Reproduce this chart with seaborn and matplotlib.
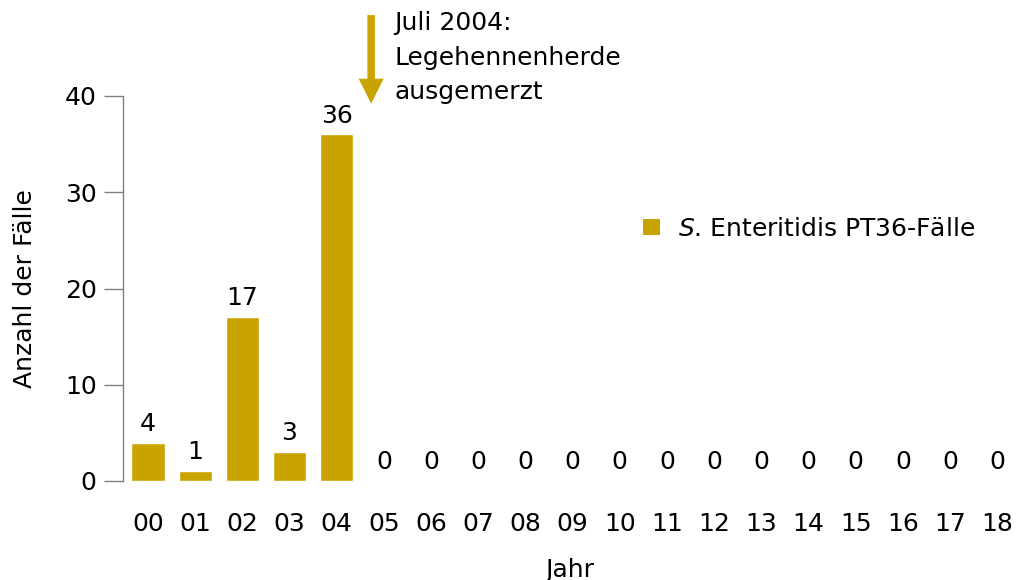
import matplotlib
matplotlib.use("Agg")
import matplotlib.pyplot as plt
import pandas as pd
import seaborn as sns
from matplotlib.patches import Patch

sns.set_theme(style="white")
plt.rcParams["font.family"] = ["DejaVu Sans"]
plt.rcParams["text.color"] = "black"
plt.rcParams["axes.labelcolor"] = "black"
plt.rcParams["xtick.color"] = "black"
plt.rcParams["ytick.color"] = "black"

years = ["00", "01", "02", "03", "04", "05", "06", "07", "08", "09",
         "10", "11", "12", "13", "14", "15", "16", "17", "18"]
cases = [4, 1, 17, 3, 36, 0, 0, 0, 0, 0, 0, 0, 0, 0, 0, 0, 0, 0, 0]
yticks = [0, 10, 20, 30, 40]

GOLD = "#C9A400"
GREY = "#808080"
FS = 18

df = pd.DataFrame({"Jahr": years, "Faelle": cases})

fig = plt.figure(figsize=(10.17, 5.8), dpi=100)
ax = fig.add_axes([123 / 1017, 99 / 580, 1 - 123 / 1017, 385 / 580])

sns.barplot(data=df, x="Jahr", y="Faelle", color=GOLD, saturation=1,
            width=0.7, ax=ax)

ax.set_xlim(-0.53, 18.42)
ax.set_ylim(0, 40)
ax.set_yticks(yticks)

for c in ax.containers:
    ax.bar_label(c, padding=5, fontsize=FS, color="black")

sns.despine(ax=ax, bottom=True, right=True, top=True)
ax.spines["left"].set_color(GREY)
ax.spines["left"].set_linewidth(1)
ax.tick_params(axis="y", length=14, width=1, color=GREY, labelcolor="black",
               labelsize=FS, pad=5, left=True)
ax.tick_params(axis="x", length=0, labelsize=FS, pad=22)

ax.set_xlabel("Jahr", fontsize=FS, labelpad=16)
ax.set_ylabel("Anzahl der Fälle", fontsize=FS, labelpad=20)

# arrow marking July 2004
ax.annotate("", xy=(4.73, 39.2), xytext=(4.73, 48.4),
            annotation_clip=False,
            arrowprops=dict(arrowstyle="simple,head_width=1.5,head_length=1.5,tail_width=0.45",
                            color=GOLD, lw=0, shrinkA=0, shrinkB=0))
ax.text(5.23, 48.8, "Juli 2004:\nLegehennenherde\nausgemerzt", fontsize=FS,
        va="top", ha="left", linespacing=1.55, clip_on=False)

handle = Patch(facecolor=GOLD, edgecolor="none")
ax.legend([handle], [r"$\it{S}$. Enteritidis PT36-Fälle"], loc="center left",
          bbox_to_anchor=(0.582, 0.655), frameon=False, fontsize=FS,
          handlelength=0.65, handleheight=0.65, handletextpad=0.75,
          borderpad=0, borderaxespad=0)

fig.savefig("out.png", dpi=100)
